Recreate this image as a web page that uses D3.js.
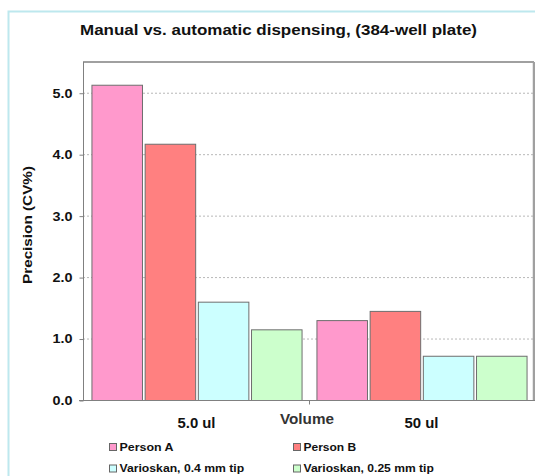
<!DOCTYPE html>
<html><head><meta charset="utf-8">
<script src="https://cdn.jsdelivr.net/npm/d3@7"></script>
<style>body{margin:0;background:#fff}svg{display:block}text{font-family:Arial,"Liberation Sans",sans-serif;font-weight:bold}</style>
</head><body><svg id="c" width="535" height="476"></svg>
<script>
const categories = ["5.0 ul", "50 ul"];
const seriesNames = ["Person A", "Person B", "Varioskan, 0.4 mm tip", "Varioskan, 0.25 mm tip"];
const personA = [5.13, 1.30];
const personB = [4.17, 1.45];
const vario04 = [1.60, 0.72];
const vario025 = [1.15, 0.72];
const yTicks = [0, 1, 2, 3, 4, 5];
const colors = ["#ff99cc", "#ff8080", "#ccffff", "#ccffcc"];
const seriesValues = [personA, personB, vario04, vario025];

const svg = d3.select("#c");
// outer frame
svg.append("rect").attr("x", 8.5).attr("y", 11.5).attr("width", 700).attr("height", 700)
  .attr("fill", "#fff").attr("stroke", "#bde8ee").attr("stroke-width", 2);

const L = 83, R = 533, T = 62, B = 400;
const y = d3.scaleLinear().domain([0, 5.5]).range([B, T]);
const x0 = d3.scaleBand().domain(categories).range([L + 1, R + 1]);
const x1 = d3.scaleBand().domain(seriesNames).range([0, x0.bandwidth()]).paddingInner(0.05).paddingOuter(0.14);

// gridlines
svg.append("g").selectAll("line").data(yTicks.filter(d => d > 0)).join("line")
  .attr("x1", L).attr("x2", R).attr("y1", d => y(d) + 0.5).attr("y2", d => y(d) + 0.5)
  .attr("stroke", "#b8b8b8").attr("stroke-dasharray", "2,2");

// bars
const rows = [];
categories.forEach((c, i) => seriesNames.forEach((s, j) => rows.push({c, s, v: seriesValues[j][i], j})));
svg.append("g").selectAll("rect").data(rows).join("rect")
  .attr("x", d => x0(d.c) + x1(d.s) + 0.5)
  .attr("y", d => y(d.v) + 0.5)
  .attr("width", x1.bandwidth())
  .attr("height", d => B - y(d.v))
  .attr("fill", d => colors[d.j]).attr("stroke", "#6e6e6e").attr("stroke-width", 1);

// plot border top/right
svg.append("line").attr("x1", L).attr("x2", R + 1).attr("y1", T).attr("y2", T).attr("stroke", "#a0a0a0").attr("stroke-width", 2);
svg.append("line").attr("x1", R + 1).attr("x2", R + 1).attr("y1", T).attr("y2", B).attr("stroke", "#a0a0a0").attr("stroke-width", 2.5);

// y axis
const yAxis = d3.axisLeft(y).tickValues(yTicks).tickSize(4).tickFormat(d3.format(".1f"));
const gy = svg.append("g").attr("transform", `translate(${L + 0.5},0)`).call(yAxis);
gy.select(".domain").attr("stroke", "#808080").attr("d", `M0,${T}V${B + 0.5}`);
gy.selectAll(".tick line").attr("stroke", "#808080").attr("transform", "translate(0,0.5)");
gy.selectAll(".tick text").attr("x", -11).attr("dy", "0.35em").attr("fill", "#111")
  .style("font-size", "12.5px").attr("textLength", 20).attr("lengthAdjust", "spacingAndGlyphs");

// x axis
const xAxis = d3.axisBottom(x0).tickSize(0).tickFormat("");
const gx = svg.append("g").attr("transform", `translate(0,${B + 0.5})`).call(xAxis);
gx.select(".domain").attr("stroke", "#808080").attr("d", `M${L - 4},0H${R + 2}`);
gx.append("line").attr("x1", x0.range()[0] + x0.bandwidth() + 0.5).attr("x2", x0.range()[0] + x0.bandwidth() + 0.5)
  .attr("y1", 0).attr("y2", 4).attr("stroke", "#808080");
const catWidths = [38, 34];
svg.append("g").selectAll("text").data(categories).join("text")
  .attr("x", (d, i) => x0(d) + x0.bandwidth() / 2 - catWidths[i] / 2)
  .attr("y", 428).attr("textLength", (d, i) => catWidths[i]).attr("lengthAdjust", "spacingAndGlyphs")
  .style("font-size", "14px").attr("fill", "#111").text(d => d);

svg.append("text").attr("x", 307 - 27).attr("y", 424).attr("textLength", 54).attr("lengthAdjust", "spacingAndGlyphs")
  .style("font-size", "14px").attr("fill", "#333").text("Volume");

// title
svg.append("text").attr("x", 80).attr("y", 34.5).attr("textLength", 397).attr("lengthAdjust", "spacingAndGlyphs")
  .style("font-size", "15px").attr("fill", "#111").text("Manual vs. automatic dispensing, (384-well plate)");

// y title
svg.append("text").attr("transform", "translate(31.5,225) rotate(-90)").attr("x", -59)
  .attr("textLength", 118).attr("lengthAdjust", "spacingAndGlyphs")
  .style("font-size", "13px").attr("fill", "#111").text("Precision (CV%)");

// legend
const legPos = [[109.5, 443.5], [293.5, 443.5], [109.5, 465], [293.5, 465]];
const legW = [54, 52.7, 124.7, 130.3];
const lg = svg.append("g").selectAll("g").data(seriesNames).join("g")
  .attr("transform", (d, i) => `translate(${legPos[i][0]},${legPos[i][1]})`);
lg.append("rect").attr("width", 7).attr("height", 7).attr("fill", (d, i) => colors[i]).attr("stroke", "#666");
lg.append("text").attr("x", 10).attr("y", 7).style("font-size", "11px").attr("fill", "#111")
  .attr("textLength", (d, i) => legW[i]).attr("lengthAdjust", "spacingAndGlyphs").text(d => d);
</script></body></html>
